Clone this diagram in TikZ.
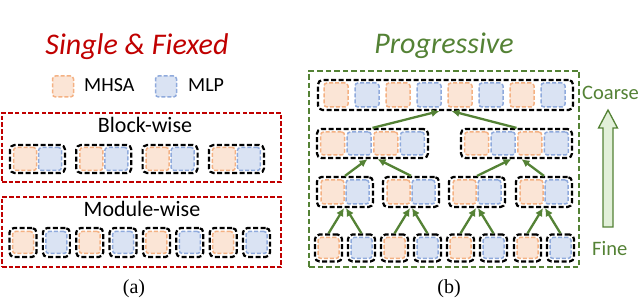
\documentclass[tikz,border=0pt]{standalone}
\usepackage{fontspec}
\setmainfont{Carlito}
\newfontfamily\capfont{Liberation Serif}
\usetikzlibrary{arrows.meta}
\definecolor{orfill}{RGB}{251,229,214}
\definecolor{orline}{RGB}{244,177,131}
\definecolor{blfill}{RGB}{218,227,243}
\definecolor{blline}{RGB}{143,170,220}
\definecolor{dgreen}{RGB}{84,130,53}
\definecolor{lgreen}{RGB}{226,240,217}
\definecolor{dred}{RGB}{192,0,0}
\tikzset{
 blk/.style={draw=black, line width=2.2pt, dash pattern=on 5pt off 2.5pt, rounded corners=4.5pt, inner sep=0pt},
 sq/.style={line width=1.5pt, dash pattern=on 4pt off 2pt, rounded corners=3pt, inner sep=0pt},
 msa/.style={sq, draw=orline, fill=orfill},
 mlp/.style={sq, draw=blline, fill=blfill},
 redbox/.style={draw=dred, line width=1.5pt, dash pattern=on 4.5pt off 2.2pt, inner sep=0pt, minimum width=279pt},
 grnbox/.style={draw=dgreen, line width=1.6pt, dash pattern=on 5.5pt off 3pt, inner sep=0pt},
 arr/.style={draw=dgreen, line width=2.3pt, -{Latex[length=8pt,width=8pt]}},
 lbl/.style={inner sep=0pt, anchor=base},
}
\begin{document}
\begin{tikzpicture}[x=1pt,y=-1pt]
\useasboundingbox (0,0) rectangle (640,299);

% ---------- left panel ----------
\node[lbl, text=dred, font=\fontsize{30}{32}\selectfont\itshape] (t1) at (137,55) {Single \& Fiexed};
\node[msa, minimum width=21pt, minimum height=21pt] (lgo) at (63,86.5) {};
\node[lbl, anchor=base west, font=\fontsize{20}{22}\selectfont] (lgot) at (84,92) {MHSA};
\node[mlp, minimum width=21pt, minimum height=21pt] (lgb) at (166,86.5) {};
\node[lbl, anchor=base west, font=\fontsize{20}{22}\selectfont] (lgbt) at (188,92) {MLP};

\node[redbox, minimum height=69pt] (bwbox) at (141.5,147.5) {};
\node[lbl, font=\fontsize{22}{24}\selectfont] (bwt) at (145,133) {Block-wise};
\foreach \i/\c in {1/37.5,2/103.8,3/170.1,4/236.4}{
 \node[blk, minimum width=55pt, minimum height=28pt] (bw\i) at (\c,159) {};
 \node[msa, minimum width=23pt, minimum height=23pt] (bwa\i) at (\c-12.5,159) {};
 \node[mlp, minimum width=23pt, minimum height=23pt] (bwb\i) at (\c+12.5,159) {};
}

\node[redbox, minimum height=70pt] (mwbox) at (141.5,232) {};
\node[lbl, font=\fontsize{22}{24}\selectfont] (mwt) at (142,216.5) {Module-wise};
\foreach \i/\s in {0/msa,1/mlp,2/msa,3/mlp,4/msa,5/mlp,6/msa,7/mlp}{
 \node[blk, minimum width=27pt, minimum height=29pt] (mw\i) at (23+33.36*\i,242.5) {};
 \node[\s, minimum width=21pt, minimum height=22pt] (mws\i) at (23+33.36*\i,242.5) {};
}
\node[lbl, font=\capfont\fontsize{20}{22}\selectfont] (capa) at (134,293.5) {(a)};

% ---------- right panel ----------
\node[lbl, text=dgreen, font=\fontsize{30}{32}\selectfont\itshape] (t2) at (444,54) {Progressive};
\node[grnbox, minimum width=270pt, minimum height=196pt] (gbox) at (444,169) {};

% top row
\node[blk, minimum width=255pt, minimum height=30pt] (top) at (445.5,95) {};
\foreach \i/\s in {0/msa,1/mlp,2/msa,3/mlp,4/msa,5/mlp,6/msa,7/mlp}{
 \node[\s, minimum width=24pt, minimum height=24pt] (tops\i) at (336+31*\i,95) {};
}
% level 2
\foreach \j/\c in {1/372.5,2/516.5}{
 \node[blk, minimum width=111pt, minimum height=29pt] (h\j) at (\c,143.5) {};
 \node[msa, minimum width=24pt, minimum height=23pt] (h\j a) at (\c-39.9,143.5) {};
 \node[mlp, minimum width=24pt, minimum height=23pt] (h\j b) at (\c-13.3,143.5) {};
 \node[msa, minimum width=24pt, minimum height=23pt] (h\j c) at (\c+13.3,143.5) {};
 \node[mlp, minimum width=24pt, minimum height=23pt] (h\j d) at (\c+39.9,143.5) {};
}
% level 3 and 4
\foreach \j/\c in {1/345,2/411,3/477,4/544}{
 \node[blk, minimum width=56pt, minimum height=30pt] (m\j) at (\c,192) {};
 \node[msa, minimum width=23pt, minimum height=24pt] (m\j a) at (\c-12.5,192) {};
 \node[mlp, minimum width=23pt, minimum height=24pt] (m\j b) at (\c+12.5,192) {};
 \node[blk, minimum width=27pt, minimum height=27pt] (fa\j) at (\c-16.5,248) {};
 \node[msa, minimum width=21pt, minimum height=21pt] (fas\j) at (\c-16.5,248) {};
 \node[blk, minimum width=27pt, minimum height=27pt] (fb\j) at (\c+16.5,248) {};
 \node[mlp, minimum width=21pt, minimum height=21pt] (fbs\j) at (\c+16.5,248) {};
 \draw[arr] (fa\j.north) -- ([xshift=-1pt]m\j.south);
 \draw[arr] (fb\j.north) -- ([xshift=1pt]m\j.south);
}
\draw[arr] (m1.north) -- ([xshift=-5pt]h1.south);
\draw[arr] (m2.north) -- ([xshift=5pt]h1.south);
\draw[arr] (m3.north) -- ([xshift=-5pt]h2.south);
\draw[arr] (m4.north) -- ([xshift=5pt]h2.south);
\draw[arr] (h1.north) -- ([xshift=-6pt]top.south);
\draw[arr] (h2.north) -- ([xshift=6pt]top.south);

% coarse / fine
\node[lbl, anchor=base west, text=dgreen, font=\fontsize{20.5}{22}\selectfont] (coarse) at (582,100) {Coarse};
\node[lbl, anchor=base west, text=dgreen, font=\fontsize{20.5}{22}\selectfont] (fine) at (592,255) {Fine};
\draw[draw=dgreen, fill=lgreen, line width=1.3pt, line join=miter]
 (603,227) -- (603,128) -- (598.5,128) -- (608,110) -- (617.5,128) -- (613,128) -- (613,227) -- cycle;

\node[lbl, font=\capfont\fontsize{20}{22}\selectfont] (capb) at (449,293.5) {(b)};
\end{tikzpicture}
\end{document}
